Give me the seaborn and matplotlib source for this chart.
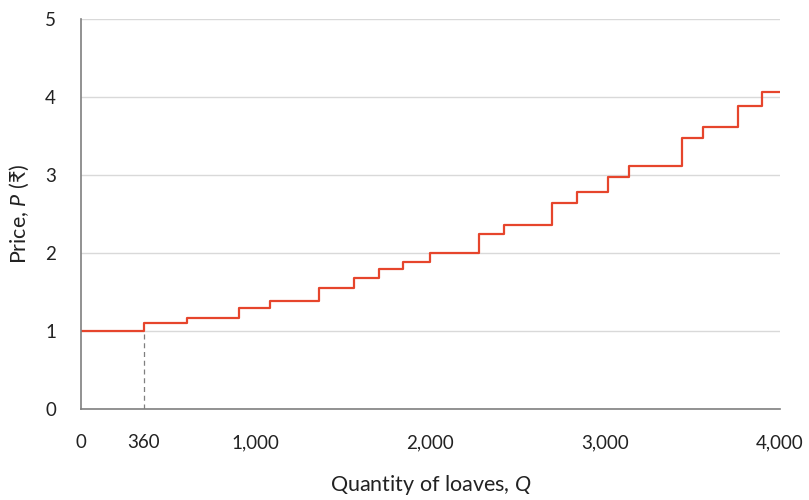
import matplotlib
matplotlib.use("Agg")
import matplotlib.pyplot as plt
import seaborn as sns
import pandas as pd

# step points of the supply curve (quantity where the price jumps, new price)
quantity = [0, 360, 604, 903, 1082, 1362, 1560, 1703, 1842, 2000, 2280, 2419,
            2697, 2840, 3018, 3137, 3438, 3558, 3758, 3897, 4000]
price = [1.00, 1.10, 1.17, 1.30, 1.39, 1.55, 1.68, 1.79, 1.88, 2.00, 2.24, 2.36,
         2.64, 2.78, 2.97, 3.11, 3.47, 3.62, 3.88, 4.06, 4.06]

x_ticks = [0, 360, 1000, 2000, 3000, 4000]
x_tick_labels = ["0", "360", "1,000", "2,000", "3,000", "4,000"]
y_ticks = [0, 1, 2, 3, 4, 5]

df = pd.DataFrame({"Q": quantity, "P": price})

sns.set_theme(style="white")
plt.rcParams['font.family'] = ['Lato', 'DejaVu Sans']
plt.rcParams['mathtext.fontset'] = 'custom'
plt.rcParams['mathtext.rm'] = 'Lato'
plt.rcParams['mathtext.it'] = 'Lato:italic'

line_col = "#e6452c"
axis_col = "#7f7f7f"

fig = plt.figure(figsize=(8.09, 5.0), dpi=100)
ax = fig.add_axes([0.1001, 0.182, 0.864, 0.780])

sns.lineplot(data=df, x="Q", y="P", drawstyle="steps-post", color=line_col,
             linewidth=1.6, ax=ax)

# dashed guide at the first step
ax.plot([quantity[1], quantity[1]], [0, price[0]], ls=(0, (4, 3)),
        color=axis_col, lw=0.9)

ax.set_xlim(0, 4000)
ax.set_ylim(0, 5)
ax.set_xticks(x_ticks)
ax.set_xticklabels(x_tick_labels)
ax.set_yticks(y_ticks)
ax.yaxis.grid(True, color="#d9d9d9", lw=1)
ax.set_axisbelow(True)

for side in ["top", "right"]:
    ax.spines[side].set_visible(False)
for side in ["left", "bottom"]:
    ax.spines[side].set_color(axis_col)
    ax.spines[side].set_linewidth(1.2)

ax.tick_params(axis="both", colors=axis_col, length=5, width=1.2,
               labelsize=13.5, labelcolor="#222222")
ax.tick_params(axis="x", pad=13)
ax.tick_params(axis="y", pad=13)

ax.set_xlabel("Quantity of loaves, $\\it{Q}$", fontsize=15.5, color="#222222",
              labelpad=16)
ax.set_ylabel("Price, $\\it{P}$ (₹)", fontsize=15.5, color="#222222",
              labelpad=10)

fig.savefig("out.png", dpi=100)
